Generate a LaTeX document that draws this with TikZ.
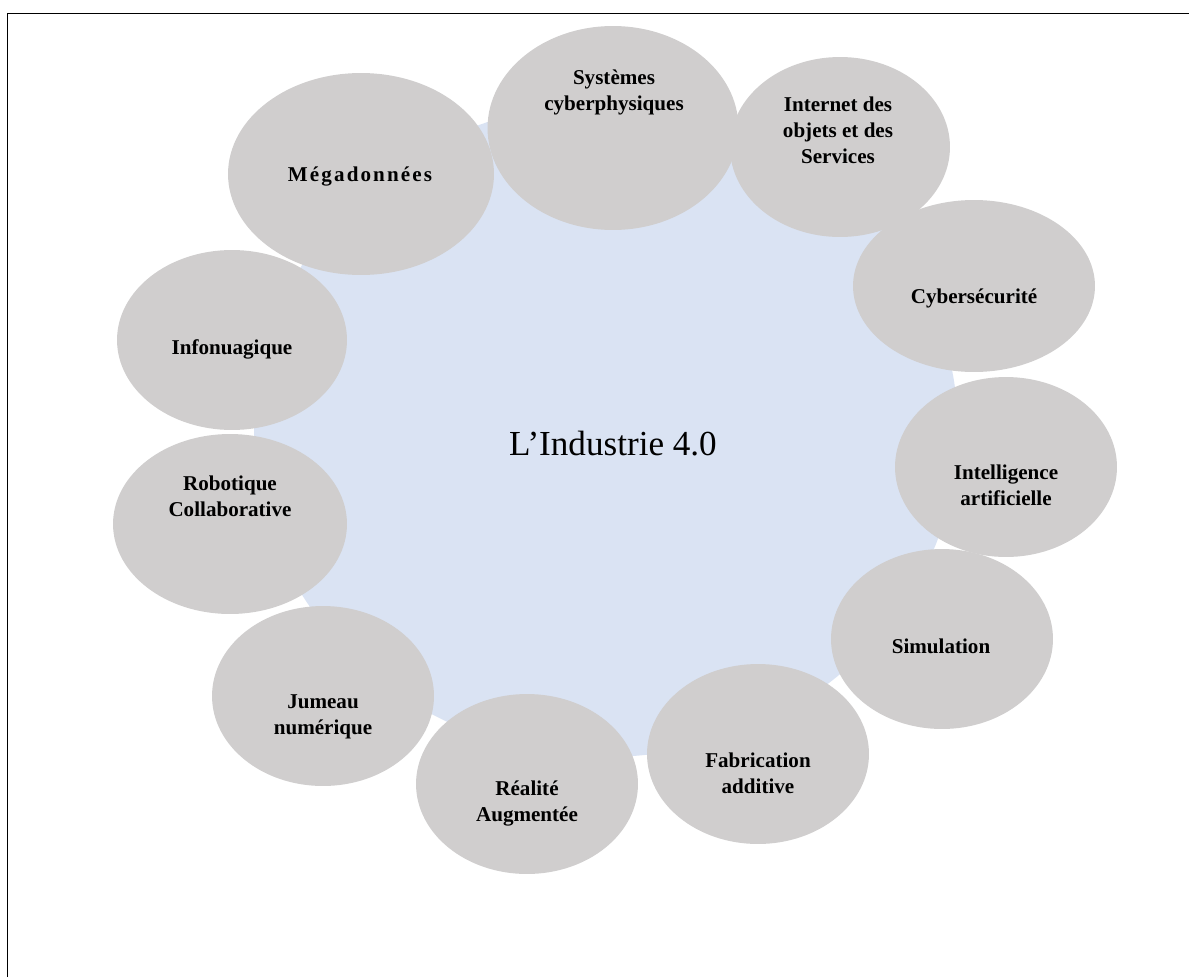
\documentclass[tikz,border=0pt]{standalone}
\usepackage{fontspec}
\setmainfont{Liberation Serif}
\usepackage{tikz}
\usetikzlibrary{shapes.geometric}
\definecolor{bubblegrey}{HTML}{D0CECE}
\definecolor{corebleu}{HTML}{DAE3F3}
\tikzset{bubble/.style={ellipse, fill=bubblegrey, inner sep=0pt},
  lbl/.style={font=\bfseries\fontsize{12}{14.8}\selectfont, align=center, inner sep=0pt,
    execute at begin node=\strut, execute at end node=\strut}}

\begin{document}
\begin{tikzpicture}[x=0.02cm, y=-0.02cm]
\useasboundingbox (0,0) rectangle (1189,977);
\draw[line width=1.1pt](7.5,977)--(7.5,13.5)--(1189,13.5);

\node[ellipse, fill=corebleu, minimum width=14.08cm, minimum height=13.08cm, inner sep=0pt] (core) at (606,430){};
\node[font=\fontsize{20}{24}\selectfont, anchor=base] (core-t) at (613,455){L’Industrie 4.0};

\node[bubble, minimum width=5.32cm, minimum height=4.04cm] (mega) at (361,174){};
\node[bubble, minimum width=5.02cm, minimum height=4.08cm] (cps) at (613,128){};
\node[bubble, minimum width=4.4cm, minimum height=3.6cm] (iot) at (840,147){};
\node[bubble, minimum width=4.84cm, minimum height=3.44cm] (cyber) at (974,286){};
\node[bubble, minimum width=4.44cm, minimum height=3.6cm] (ia) at (1006,467){};
\node[bubble, minimum width=4.44cm, minimum height=3.6cm] (simu) at (942,639){};
\node[bubble, minimum width=4.44cm, minimum height=3.6cm] (fab) at (758,754){};
\node[bubble, minimum width=4.44cm, minimum height=3.6cm] (ra) at (527,784){};
\node[bubble, minimum width=4.44cm, minimum height=3.6cm] (twin) at (323,696){};
\node[bubble, minimum width=4.68cm, minimum height=3.6cm] (robot) at (230,524){};
\node[bubble, minimum width=4.6cm, minimum height=3.6cm] (cloud) at (232,340){};

\node[lbl] (mega-t) at (360,176){\addfontfeatures{LetterSpace=10}Mégadonnées};
\node[lbl] (cps-t) at (614,94){Systèmes\\cyberphysiques};
\node[lbl] (iot-t) at (838,134){Internet des\\objets et des\\Services};
\node[lbl] (cyber-t) at (974,298){Cybersécurité};
\node[lbl] (ia-t) at (1006,489){Intelligence\\artificielle};
\node[lbl] (simu-t) at (941,648){Simulation};
\node[lbl] (fab-t) at (758,777){Fabrication\\additive};
\node[lbl] (ra-t) at (527,805){Réalité\\Augmentée};
\node[lbl] (twin-t) at (323,718){Jumeau\\numérique};
\node[lbl] (robot-t) at (230,500){Robotique\\Collaborative};
\node[lbl] (cloud-t) at (232,349){Infonuagique};
\end{tikzpicture}
\end{document}
